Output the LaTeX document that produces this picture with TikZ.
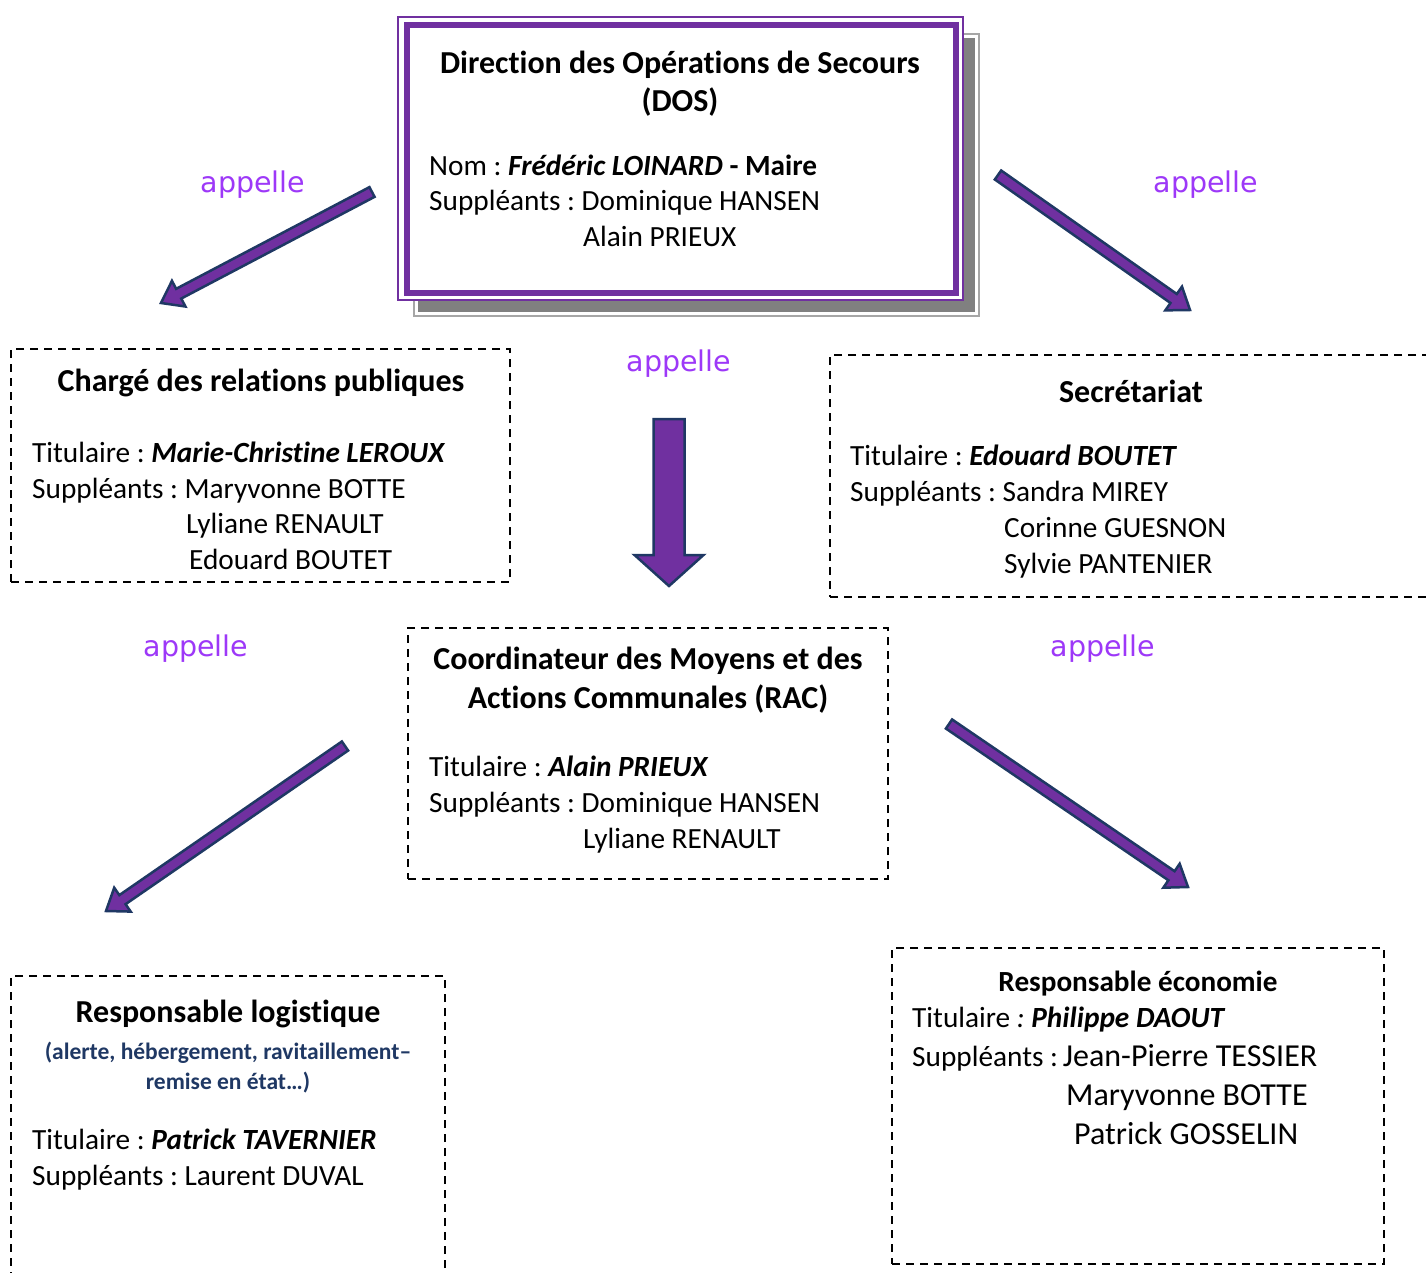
\documentclass[tikz,border=0pt]{standalone}
\usepackage{fontspec}
\setmainfont{Carlito}[Ligatures={NoCommon}]
\newfontfamily\appfont{DejaVu Sans}
\usetikzlibrary{calc}
\definecolor{arrfill}{HTML}{7030A0}
\definecolor{arrline}{HTML}{1F3864}
\definecolor{dosborder}{HTML}{7030A0}
\definecolor{appcol}{HTML}{9D38F8}
\definecolor{subcol}{HTML}{1F3864}
\definecolor{shadowcol}{HTML}{808080}
\definecolor{shadowline}{HTML}{A6A6A6}
\tikzset{
  dashbox/.style={draw=black, line width=1.8pt, dash pattern=on 8pt off 6pt, rectangle, inner sep=0pt, outer sep=0pt, anchor=north west},
  blockarrow/.style={fill=arrfill, draw=arrline, line width=2.5pt, line join=miter},
  body/.style={inner sep=0pt, font=\fontsize{29.3}{35}\selectfont},
  ttl/.style={inner sep=0pt, font=\fontsize{32}{38}\selectfont\bfseries},
  applabel/.style={inner sep=0pt, text=appcol, font=\appfont\fontsize{28.5}{34}\selectfont},
  subttl/.style={inner sep=0pt, text=subcol, font=\fontsize{23.5}{28}\selectfont\bfseries},
}
\newcommand{\blockarr}[5]{%
  \coordinate (tmpB) at ($(#2)!#5!(#1)$);
  \filldraw[blockarrow] ($(#1)!#3!90:(#2)$) -- ($(tmpB)!#3!90:(#2)$) -- ($(tmpB)!#4!90:(#2)$) -- (#2) -- ($(tmpB)!#4!-90:(#2)$) -- ($(tmpB)!#3!-90:(#2)$) -- ($(#1)!#3!-90:(#2)$) -- cycle;}
\newcommand{\bignm}[1]{{\fontsize{32}{38}\selectfont #1}}
\begin{document}
\frenchspacing
\begin{tikzpicture}[x=1pt,y=-1pt]
\useasboundingbox (0,0) rectangle (1426,1273);
\fill[white] (0,0) rectangle (1426,1273);

% ---------- DOS box ----------
\draw[shadowline, line width=1.2pt] (414,34) rectangle (979,316);
\fill[shadowcol] (418,38) rectangle (975,312);
\fill[white] (398,17) rectangle (963,300);
\draw[dosborder, line width=1.4pt] (398,17) rectangle (963,300);
\node[draw=dosborder, line width=6pt, fill=white, minimum width=549pt, minimum height=267pt, inner sep=0pt, outer sep=0pt, anchor=north west] (dos) at (406.5,25.5) {};
\node[ttl, anchor=base] (dost1) at (680,74) {Direction des Opérations de Secours};
\node[ttl, anchor=base] (dost2) at (680,112) {(DOS)};
\node[body, anchor=base west] (dosl1) at (429,176) {Nom : \textbf{\textit{Frédéric LOINARD}} \textbf{- Maire}};
\node[body, anchor=base west] (dosl2) at (429,211) {Suppléants : Dominique HANSEN};
\node[body, anchor=base west] (dosl3) at (583,247) {Alain PRIEUX};

% ---------- Chargé des relations publiques ----------
\node[dashbox, minimum width=499pt, minimum height=233pt] (charge) at (11,349) {};
\node[ttl, anchor=base] (chat) at (261,391) {Chargé des relations publiques};
\node[body, anchor=base west] (chal1) at (32,462) {Titulaire : \textbf{\textit{Marie-Christine LEROUX}}};
\node[body, anchor=base west] (chal2) at (32,498) {Suppléants : Maryvonne BOTTE};
\node[body, anchor=base west] (chal3) at (186,533) {Lyliane RENAULT};
\node[body, anchor=base west] (chal4) at (189,569) {Edouard BOUTET};

% ---------- Secrétariat ----------
\node[dashbox, minimum width=620pt, minimum height=242pt] (secr) at (830,355) {};
\node[ttl, anchor=base] (secrt) at (1131,402) {Secrétariat};
\node[body, anchor=base west] (secl1) at (850,465) {Titulaire : \textbf{\textit{Edouard BOUTET}}};
\node[body, anchor=base west] (secl2) at (850,501) {Suppléants : Sandra MIREY};
\node[body, anchor=base west] (secl3) at (1004,537) {Corinne GUESNON};
\node[body, anchor=base west] (secl4) at (1004,573) {Sylvie PANTENIER};

% ---------- RAC ----------
\node[dashbox, minimum width=480pt, minimum height=251pt] (rac) at (408,628) {};
\node[ttl, anchor=base] (ract1) at (648,669) {Coordinateur des Moyens et des};
\node[ttl, anchor=base] (ract2) at (648,708) {Actions Communales (RAC)};
\node[body, anchor=base west] (racl1) at (429,776) {Titulaire : \textbf{\textit{Alain PRIEUX}}};
\node[body, anchor=base west] (racl2) at (429,812) {Suppléants : Dominique HANSEN};
\node[body, anchor=base west] (racl3) at (583,848) {Lyliane RENAULT};

% ---------- Responsable logistique ----------
\node[dashbox, minimum width=434pt, minimum height=320pt] (logi) at (11,976) {};
\node[ttl, anchor=base] (logit) at (228,1022) {Responsable logistique};
\node[subttl, anchor=base] (logis1) at (228,1059) {(alerte, hébergement, ravitaillement–};
\node[subttl, anchor=base] (logis2) at (228,1089) {remise en état…)};
\node[body, anchor=base west] (logil1) at (32,1149) {Titulaire : \textbf{\textit{Patrick TAVERNIER}}};
\node[body, anchor=base west] (logil2) at (32,1185) {Suppléants : Laurent DUVAL};

% ---------- Responsable économie ----------
\node[dashbox, minimum width=492pt, minimum height=316pt] (eco) at (892,948) {};
\node[inner sep=0pt, font=\fontsize{29.2}{34}\selectfont\bfseries, anchor=base] (ecot) at (1138,991) {Responsable économie};
\node[body, anchor=base west] (ecol1) at (912,1027) {Titulaire \textit{:} \textbf{\textit{Philippe DAOUT}}};
\node[body, anchor=base west] (ecol2) at (912,1066) {Suppléants :\,\bignm{Jean-Pierre TESSIER}};
\node[body, anchor=base west] (ecol3) at (1066,1105) {\bignm{Maryvonne BOTTE}};
\node[body, anchor=base west] (ecol4) at (1074,1144) {\bignm{Patrick GOSSELIN}};

% ---------- appelle labels ----------
\node[applabel] (app1) at (253,185) {appelle};
\node[applabel] (app2) at (1206,185) {appelle};
\node[applabel] (app3) at (679,364) {appelle};
\node[applabel] (app4) at (196,649) {appelle};
\node[applabel] (app5) at (1103,649) {appelle};

% ---------- block arrows ----------
\coordinate (a1t) at (372,192);  \coordinate (a1p) at (161,303);
\coordinate (a2t) at (998,175);  \coordinate (a2p) at (1190,310);
\coordinate (a3t) at (669,419);  \coordinate (a3p) at (669,586);
\coordinate (a4t) at (345,746);  \coordinate (a4p) at (106,911);
\coordinate (a5t) at (949,724);  \coordinate (a5p) at (1188,887);
\blockarr{a1t}{a1p}{5.5pt}{14.5pt}{20pt}
\blockarr{a2t}{a2p}{5.5pt}{14.5pt}{20pt}
\blockarr{a3t}{a3p}{15.5pt}{34.5pt}{31pt}
\blockarr{a4t}{a4p}{5.5pt}{14.5pt}{20pt}
\blockarr{a5t}{a5p}{5.5pt}{14.5pt}{20pt}
\end{tikzpicture}
\end{document}
